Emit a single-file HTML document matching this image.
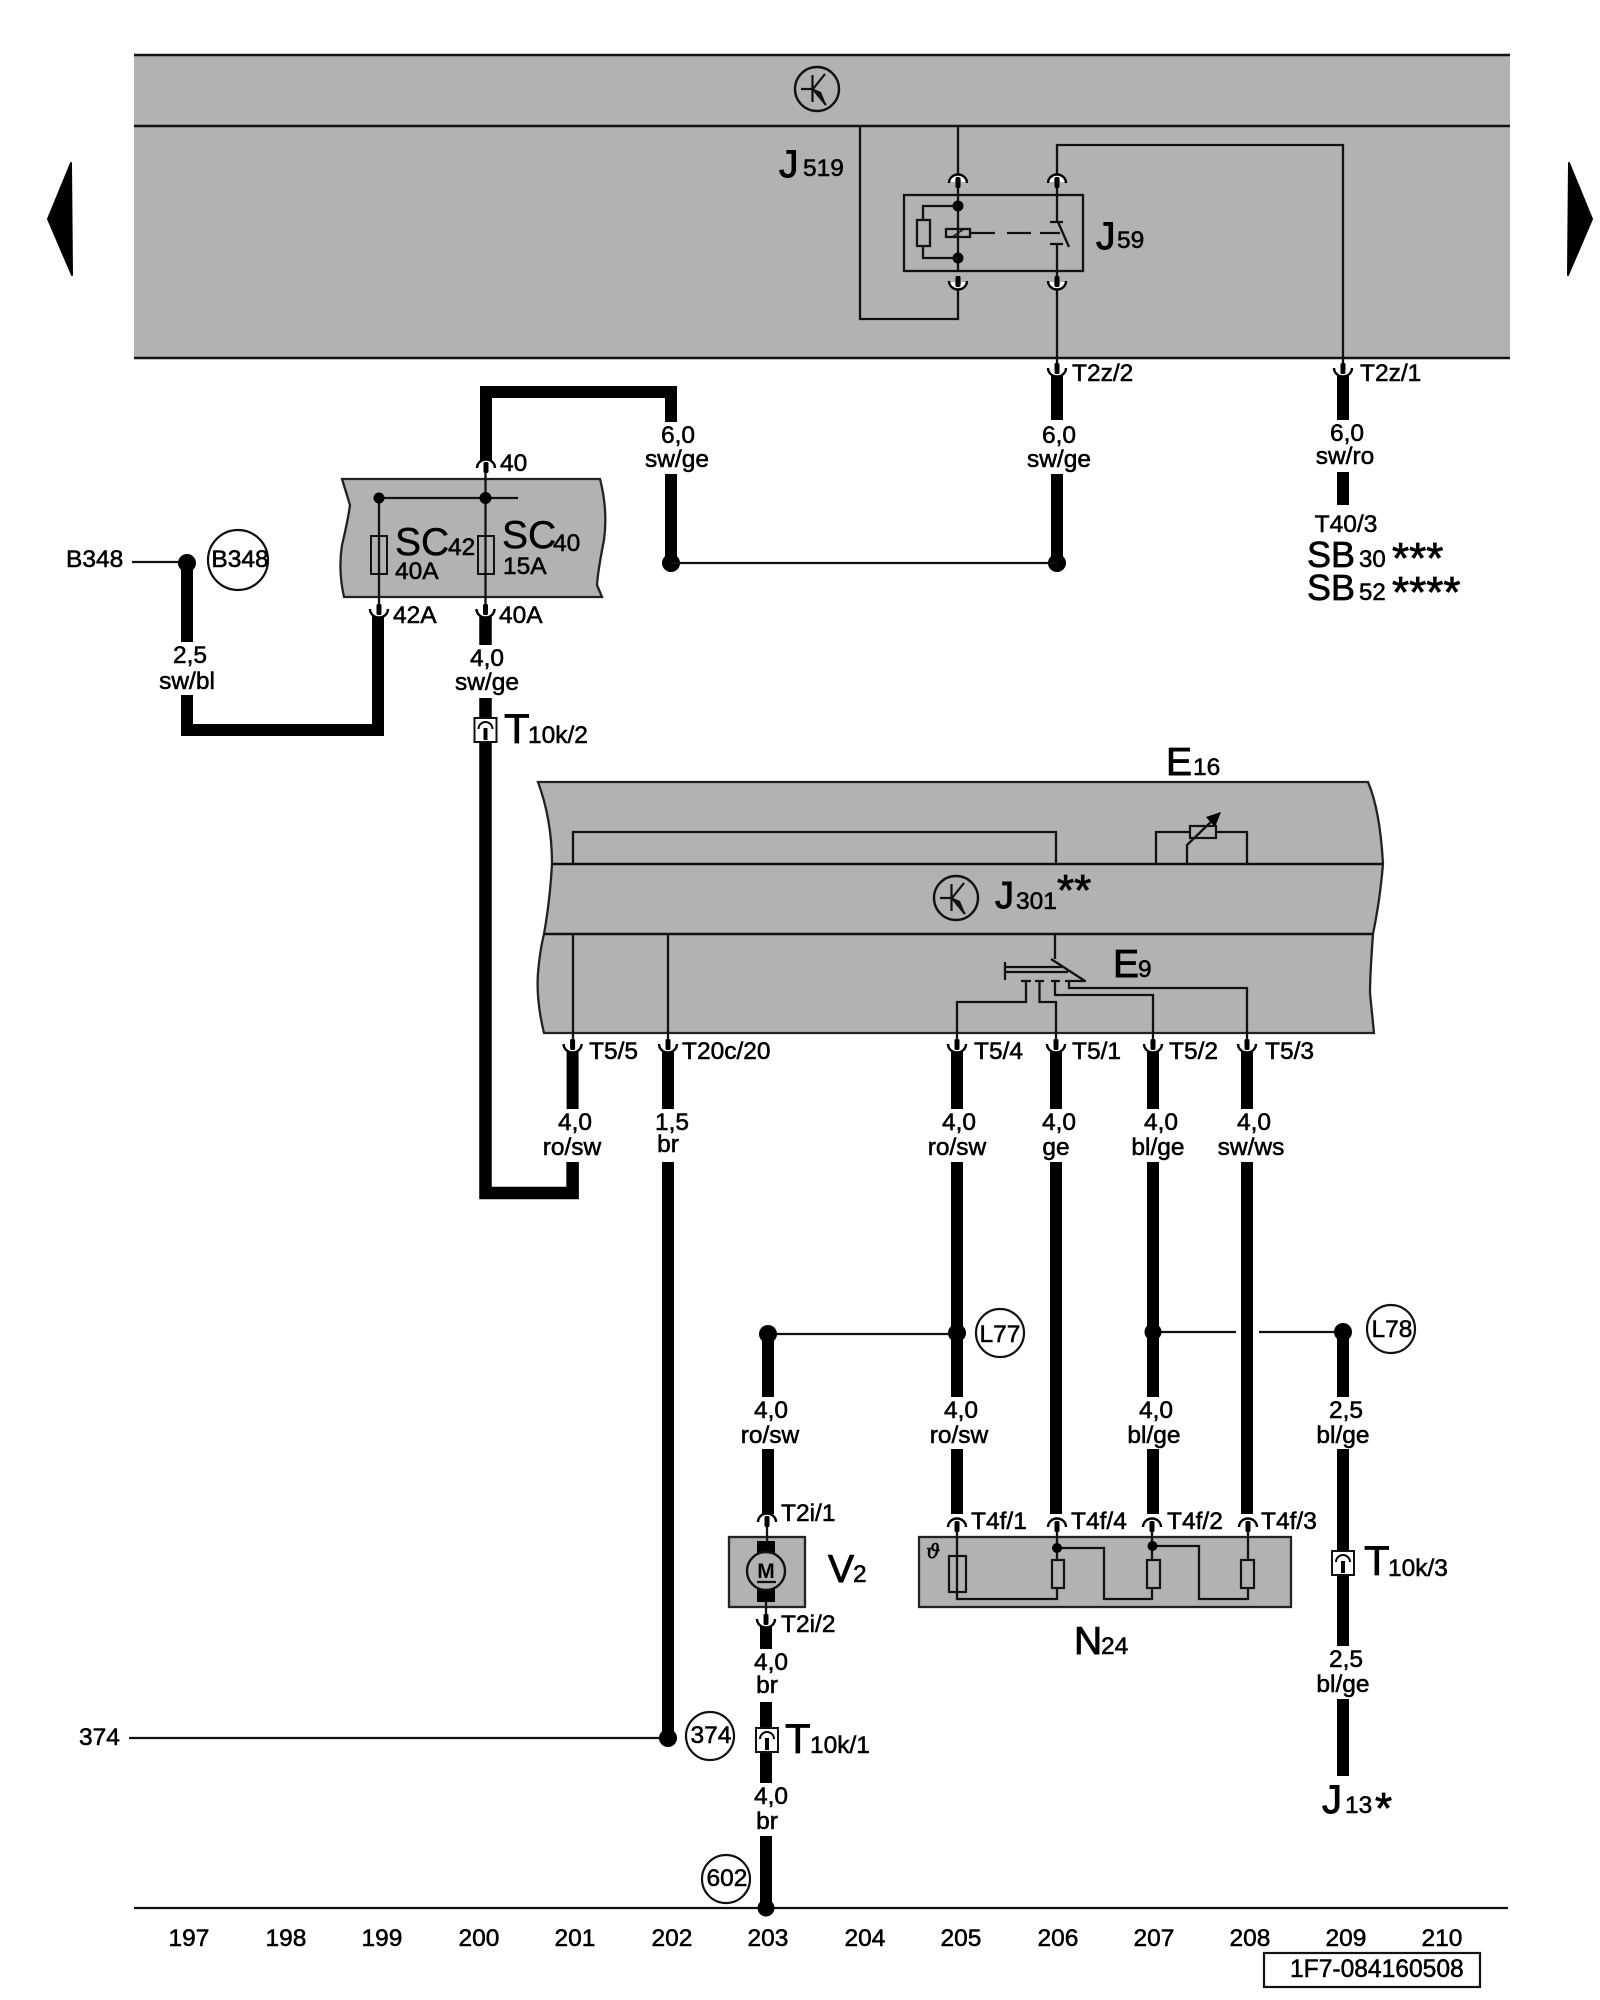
<!DOCTYPE html>
<html><head><meta charset="utf-8"><title>Diagram</title>
<style>
html,body{margin:0;padding:0;background:#fff}
svg{display:block}
text{font-family:"Liberation Sans",sans-serif;font-size:24.5px;fill:#000;stroke:#000;stroke-width:.55}
.m{text-anchor:middle}
.b{font-size:39px;stroke-width:.9}
.h{font-size:44px;stroke-width:.8}
.t{fill:none;stroke:#111;stroke-width:2.3}
.w{fill:none;stroke:#000;stroke-width:12}
.g{fill:#b2b2b2;stroke:#222;stroke-width:2.3}
.d{fill:#000}
</style></head><body>
<svg width="1600" height="2000" viewBox="0 0 1600 2000" xmlns="http://www.w3.org/2000/svg">
<defs>
<g id="capD">
<path d="M-6,-8 A6 6 0 0 0 6,-8" fill="none" stroke="#fff" stroke-width="5"/>
<path d="M-9,-9 A9 8.5 0 0 0 9,-9" fill="none" stroke="#000" stroke-width="2.4"/>
<rect x="-2.5" y="-14" width="5" height="11" rx="1.5" fill="#000"/>
</g>
<g id="capU"><use href="#capD" transform="scale(1,-1)"/></g>
<g id="key">
<ellipse cx="0" cy="0" rx="22" ry="22" fill="none" stroke="#111" stroke-width="2.4"/>
<path d="M-4.5,-14 V13 M-16,0 H-4.5 M-4,0 L8,-15 M-4,0 L9,16" fill="none" stroke="#111" stroke-width="2.2"/>
<path d="M-3,0 L4,3 L9,15 L0,7 Z" fill="#111"/>
</g>
<g id="conn">
<rect x="-11" y="-12" width="22" height="24" fill="#fff" stroke="#111" stroke-width="2"/>
<path d="M-7,-1 A7 7 0 0 1 7,-1" fill="none" stroke="#000" stroke-width="2"/>
<rect x="-2" y="-2" width="4" height="12" fill="#000"/>
</g>
</defs>

<!-- nav arrows -->
<path d="M48,219 L71,163 L72,275 Z" fill="#000" stroke="#000" stroke-width="2" stroke-linejoin="round"/>
<path d="M1592,219 L1569,163 L1568,275 Z" fill="#000" stroke="#000" stroke-width="2" stroke-linejoin="round"/>

<!-- top band -->
<rect x="134" y="55" width="1376" height="303" fill="#b2b2b2"/>
<path d="M134,55 H1510 M134,126 H1510 M134,358 H1510" class="t" style="stroke-width:2.6"/>
<use href="#key" x="817" y="89"/>
<path d="M860,126 V319 H958 V285 M958,126 V270" class="t"/>
<rect x="904" y="195" width="179" height="76" fill="none" stroke="#111" stroke-width="2.3"/>
<circle cx="958" cy="206" r="5.5" class="d"/><circle cx="958" cy="258" r="5.5" class="d"/>
<path d="M958,206 H923 V220 M923,246 V258 H958" class="t"/>
<rect x="917" y="220" width="13" height="26" fill="none" stroke="#111" stroke-width="2.3"/>
<rect x="946" y="229" width="24" height="8" fill="none" stroke="#111" stroke-width="2.3"/>
<path d="M952,237 L964,229" class="t" style="stroke-width:1.6"/>
<path d="M970,233 H995 M1007,233 H1031 M1040,233 H1060" class="t"/>
<path d="M1057,186 V222 M1050,222 H1063 M1050,244 H1063 M1057,244 V358 M1058,222 L1069,247" class="t"/>
<path d="M1057,174 V145 H1343 V365 M1057,358 V365" class="t"/>
<use href="#capU" x="958" y="174"/><use href="#capU" x="1057" y="174"/>
<use href="#capD" x="958" y="290"/><use href="#capD" x="1057" y="290"/>
<text x="779" y="177" class="b">J</text><text x="803" y="176">519</text>
<text x="1096" y="249" class="b">J</text><text x="1117" y="248">59</text>

<!-- T2z wires -->
<path class="w" d="M1057,373 V420 M1057,474 V563 M1343,373 V420 M1343,472 V505"/>
<use href="#capD" x="1057" y="377"/><use href="#capD" x="1343" y="377"/>
<text x="1072" y="381">T2z/2</text><text x="1360" y="381">T2z/1</text>
<text x="1059" y="443" class="m">6,0</text><text x="1059" y="467" class="m">sw/ge</text>
<text x="1347" y="441" class="m">6,0</text><text x="1345" y="464" class="m">sw/ro</text>
<text x="1346" y="532" class="m">T40/3</text>
<text x="1307" y="567" style="font-size:36px;stroke-width:.7">SB</text><text x="1359" y="567" style="font-size:24px">30</text><text x="1392" y="573" class="h">***</text>
<text x="1307" y="600" style="font-size:36px;stroke-width:.7">SB</text><text x="1359" y="600" style="font-size:24px">52</text><text x="1392" y="607" class="h">****</text>

<!-- SC box -->
<path class="w" d="M486,460 V392 H671 V422 M671,474 V563"/>
<circle cx="671" cy="563" r="9" class="d"/><circle cx="1057" cy="563" r="9" class="d"/>
<path d="M671,563 H1057" class="t"/>
<text x="678" y="443" class="m">6,0</text><text x="677" y="467" class="m">sw/ge</text>
<path d="M342,479 H600 Q608,510 604,540 Q598,570 597,585 L602,597 H344 Q338,570 342,545 Q348,520 350,505 Z" class="g"/>
<path d="M379,498 H518 M379,498 V610 M485.5,470 V610" class="t"/>
<circle cx="379" cy="498" r="5.5" class="d"/><circle cx="485.5" cy="498" r="6" class="d"/>
<rect x="371" y="536" width="16" height="38" fill="none" stroke="#111" stroke-width="2"/>
<rect x="478" y="536" width="16" height="38" fill="none" stroke="#111" stroke-width="2"/>
<text x="395" y="555" class="b" style="stroke-width:.4">SC</text><text x="448" y="555">42</text>
<text x="395" y="579">40A</text>
<text x="502" y="548" class="b" style="stroke-width:.4">SC</text><text x="553" y="551">40</text>
<text x="503" y="574">15A</text>
<use href="#capU" x="486" y="459"/>
<text x="500" y="471">40</text>

<!-- B348 -->
<text x="66" y="567">B348</text>
<path d="M132,562 H187" class="t"/>
<circle cx="187" cy="563" r="9" class="d"/>
<circle cx="238" cy="560" r="30" fill="none" stroke="#111" stroke-width="2.2"/>
<text x="240" y="567" class="m">B348</text>
<path class="w" d="M187,563 V642 M187,695 V730 H378 V614"/>
<use href="#capD" x="379" y="618"/>
<text x="393" y="623">42A</text>
<text x="190" y="663" class="m">2,5</text><text x="187" y="689" class="m">sw/bl</text>

<!-- 40A -->
<path class="w" style="stroke-width:12.5" d="M485.5,614 V645 M485.5,698 V1193 H572.6 V1162"/>
<use href="#capD" x="485.5" y="618"/>
<text x="499" y="623">40A</text>
<text x="487" y="666" class="m">4,0</text><text x="487" y="690" class="m">sw/ge</text>
<use href="#conn" x="485.5" y="730"/>
<text x="504" y="743" style="font-size:42px;stroke-width:.7">T</text><text x="528" y="743">10k/2</text>

<!-- E16/J301 panel -->
<path d="M538,782 H1368 Q1380,810 1383,864 Q1380,900 1373,934 Q1370,975 1370,993 L1374,1033 H544 Q536,1000 538,973 Q540,950 544,934 Q550,900 552,864 Q552,820 538,782 Z" class="g"/>
<path d="M552,864 H1383 M544,934 H1373" class="t" style="stroke-width:2.6"/>
<path d="M573,864 V832 H1056 V864 M1156,864 V832 H1190 M1216,832 H1247 V864" class="t"/>
<rect x="1190" y="826" width="26" height="12" fill="none" stroke="#111" stroke-width="2.2"/>
<path d="M1187,864 V845 L1216,817" class="t"/>
<path d="M1221,812 L1206,817 L1215,827 Z" fill="#000"/>
<use href="#key" x="956" y="898"/>
<text x="995" y="908" class="b" style="font-size:38px">J</text><text x="1016" y="909">301</text>
<text x="1057" y="905" style="font-size:44px;stroke-width:.8">**</text>
<text x="1166" y="775" class="b">E</text><text x="1193" y="775">16</text>
<text x="1113" y="977" class="b">E</text><text x="1138" y="977">9</text>
<path d="M573,934 V1040 M668,934 V1040" class="t"/>
<path d="M1055,934 V959 M1051,959 L1085,981 M1005,962 V980 M1005,967 H1062 M1005,972 H1068" class="t"/>
<path d="M1021,981 H1031 M1035,981 H1044 M1051,981 H1060 M1065,981 H1086" class="t"/>
<path d="M1026,981 V1002 H957 V1040 M1039.5,981 V1002 H1056 V1040 M1055,981 V995 H1153 V1040 M1069,981 V988 H1247 V1040" class="t"/>

<!-- T5 row wires -->
<path class="w" d="M572.6,1048 V1109 M572.6,1162 V1198 M668,1048 V1109 M668,1162 V1738 M957,1048 V1109 M957,1162 V1397 M957,1449 V1514 M1056,1048 V1109 M1056,1162 V1514 M1153,1048 V1109 M1153,1162 V1397 M1153,1449 V1514 M1247,1048 V1109 M1247,1162 V1514"/>
<use href="#capD" x="572.6" y="1053"/><use href="#capD" x="668" y="1053"/><use href="#capD" x="957" y="1053"/><use href="#capD" x="1056" y="1053"/><use href="#capD" x="1153" y="1053"/><use href="#capD" x="1247" y="1053"/>
<text x="589" y="1059">T5/5</text><text x="682" y="1059">T20c/20</text><text x="974" y="1059">T5/4</text><text x="1072" y="1059">T5/1</text><text x="1169" y="1059">T5/2</text><text x="1265" y="1059">T5/3</text>
<text x="575" y="1130" class="m">4,0</text><text x="572" y="1155" class="m">ro/sw</text>
<text x="672" y="1130" class="m">1,5</text><text x="668" y="1152" class="m">br</text>
<text x="959" y="1130" class="m">4,0</text><text x="957" y="1155" class="m">ro/sw</text>
<text x="1059" y="1130" class="m">4,0</text><text x="1056" y="1155" class="m">ge</text>
<text x="1161" y="1130" class="m">4,0</text><text x="1158" y="1155" class="m">bl/ge</text>
<text x="1254" y="1130" class="m">4,0</text><text x="1251" y="1155" class="m">sw/ws</text>

<!-- L77 L78 -->
<path d="M768,1334 H957 M1153,1332 H1236 M1259,1332 H1343" class="t"/>
<circle cx="768" cy="1334" r="9" class="d"/><circle cx="957" cy="1333" r="9" class="d"/><circle cx="1153" cy="1332" r="8.5" class="d"/><circle cx="1343" cy="1332" r="9" class="d"/>
<circle cx="1000" cy="1333" r="24" fill="none" stroke="#111" stroke-width="2.2"/><text x="1000" y="1342" class="m">L77</text>
<circle cx="1391" cy="1329" r="24" fill="none" stroke="#111" stroke-width="2.2"/><text x="1392" y="1337" class="m">L78</text>
<path class="w" d="M768,1334 V1397 M768,1449 V1514 M1343,1332 V1397 M1343,1449 V1646 M1343,1699 V1776"/>
<text x="771" y="1418" class="m">4,0</text><text x="770" y="1443" class="m">ro/sw</text>
<text x="961" y="1418" class="m">4,0</text><text x="959" y="1443" class="m">ro/sw</text>
<text x="1156" y="1418" class="m">4,0</text><text x="1154" y="1443" class="m">bl/ge</text>
<text x="1346" y="1418" class="m">2,5</text><text x="1343" y="1443" class="m">bl/ge</text>
<use href="#conn" x="1343" y="1563"/>
<text x="1364" y="1575" style="font-size:42px;stroke-width:.7">T</text><text x="1388" y="1576">10k/3</text>
<text x="1346" y="1667" class="m">2,5</text><text x="1343" y="1692" class="m">bl/ge</text>
<text x="1322" y="1813" class="b" style="font-size:40px">J</text><text x="1345" y="1813">13</text><text x="1375" y="1823" class="h">*</text>

<!-- V2 -->
<rect x="729" y="1537" width="76" height="70" class="g"/>
<rect x="757" y="1541" width="18" height="61" fill="#000"/>
<circle cx="766" cy="1571" r="19" fill="#b2b2b2" stroke="#111" stroke-width="2.4"/>
<text x="766" y="1578" class="m" style="font-size:21px;font-weight:bold;stroke-width:0">M</text>
<path d="M757,1582 H776" class="t"/>
<path d="M767,1525 V1541 M766,1602 V1616" class="t"/>
<use href="#capU" x="767" y="1513"/>
<path class="w" d="M766,1624 V1649 M766,1702 V1783 M766,1836 V1908"/>
<use href="#capD" x="766" y="1628"/>
<text x="781" y="1521">T2i/1</text><text x="781" y="1632">T2i/2</text>
<text x="828" y="1582" class="b">V</text><text x="853" y="1582">2</text>
<text x="771" y="1670" class="m">4,0</text><text x="767" y="1693" class="m">br</text>
<use href="#conn" x="767" y="1740"/>
<text x="785" y="1753" style="font-size:42px;stroke-width:.7">T</text><text x="810" y="1753">10k/1</text>
<text x="771" y="1804" class="m">4,0</text><text x="767" y="1829" class="m">br</text>

<!-- N24 -->
<rect x="919" y="1537" width="372" height="70" class="g"/>
<path d="M957,1525 V1599 H1057 V1525 M1057,1548 H1104 V1599 H1152 V1525 M1152,1546 H1199 V1599 H1248 V1525" class="t"/>
<rect x="949" y="1556" width="17" height="36" fill="none" stroke="#111" stroke-width="2.2"/>
<rect x="1052" y="1560" width="12" height="28" fill="#b2b2b2" stroke="#111" stroke-width="2.2"/>
<rect x="1147" y="1560" width="13" height="28" fill="#b2b2b2" stroke="#111" stroke-width="2.2"/>
<rect x="1241" y="1560" width="13" height="28" fill="#b2b2b2" stroke="#111" stroke-width="2.2"/>
<circle cx="1057" cy="1548" r="5" class="d"/><circle cx="1152.5" cy="1546" r="5" class="d"/>
<use href="#capU" x="957" y="1518"/><use href="#capU" x="1057" y="1518"/><use href="#capU" x="1152" y="1518"/><use href="#capU" x="1248" y="1518"/>
<text x="971" y="1529">T4f/1</text><text x="1071" y="1529">T4f/4</text><text x="1167" y="1529">T4f/2</text><text x="1261" y="1529">T4f/3</text>
<text x="926" y="1558" style='font-family:"DejaVu Serif",serif;font-style:italic;font-size:20px'>ϑ</text>
<text x="1074" y="1654" class="b">N</text><text x="1101" y="1654">24</text>

<!-- 374 -->
<text x="79" y="1745">374</text>
<path d="M129,1738 H668" class="t"/>
<circle cx="668" cy="1738" r="9" class="d"/>
<circle cx="710" cy="1736" r="24" fill="none" stroke="#111" stroke-width="2.2"/><text x="711" y="1743" class="m">374</text>

<!-- bottom -->
<circle cx="726" cy="1879" r="24" fill="none" stroke="#111" stroke-width="2.2"/><text x="727" y="1886" class="m">602</text>
<path d="M134,1908 H1508" class="t"/>
<circle cx="766" cy="1908" r="8.5" class="d"/>
<text x="189" y="1946" class="m">197</text><text x="286" y="1946" class="m">198</text><text x="382" y="1946" class="m">199</text><text x="479" y="1946" class="m">200</text><text x="575" y="1946" class="m">201</text><text x="672" y="1946" class="m">202</text><text x="768" y="1946" class="m">203</text><text x="865" y="1946" class="m">204</text><text x="961" y="1946" class="m">205</text><text x="1058" y="1946" class="m">206</text><text x="1154" y="1946" class="m">207</text><text x="1250" y="1946" class="m">208</text><text x="1346" y="1946" class="m">209</text><text x="1442" y="1946" class="m">210</text>
<rect x="1264" y="1953" width="216" height="34" fill="none" stroke="#111" stroke-width="2.2"/>
<text x="1290" y="1977" style="font-size:24.6px">1F7-084160508</text>
</svg>
</body></html>
